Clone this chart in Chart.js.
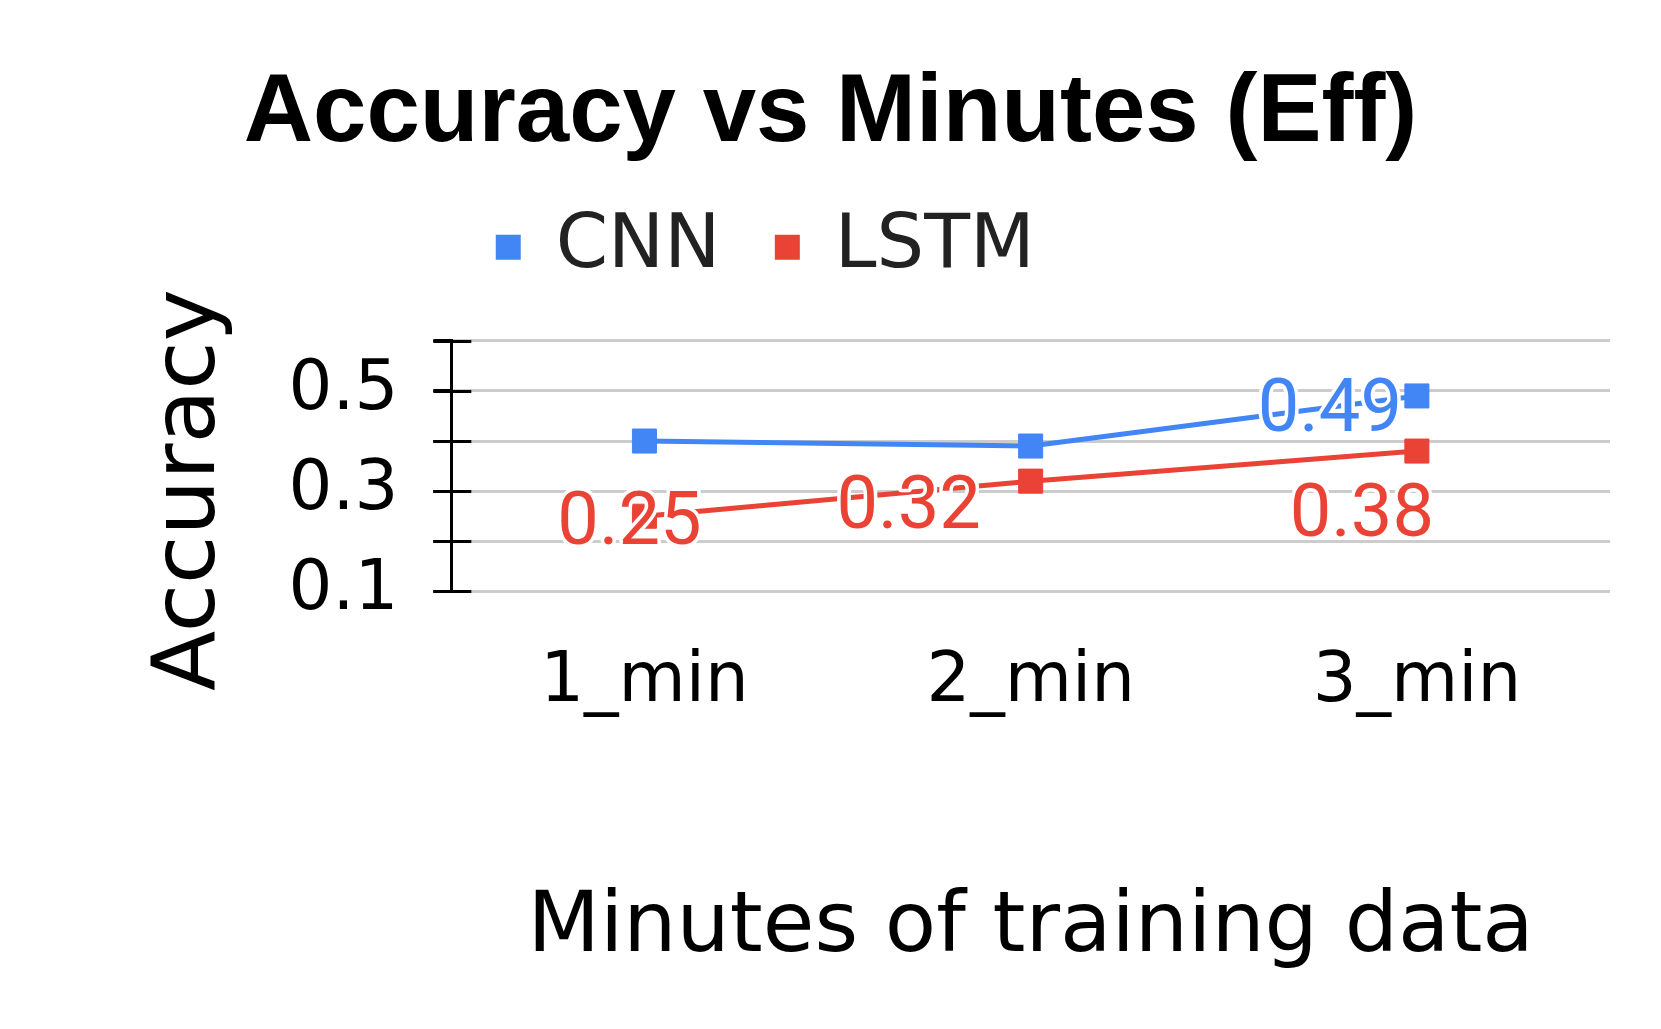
<!DOCTYPE html>
<html>
<head>
<meta charset="utf-8">
<script src="https://cdn.jsdelivr.net/npm/chart.js@4.4.1/dist/chart.umd.min.js"></script>
<style>
  html, body { margin: 0; padding: 0; background: #fff; }
</style>
</head>
<body>
<canvas id="accChart" width="1661" height="1029"></canvas>
<script>
// data
const categories = ['1_min', '2_min', '3_min'];
const cnnValues = [0.40, 0.39, 0.49];
const lstmValues = [0.25, 0.32, 0.38];
const yTickLabels = [0.1, 0.3, 0.5];
// which points carry a value label
const cnnShowLabel = [false, false, true];
const lstmShowLabel = [true, true, true];

// label placement relative to its point (px)
const labelOffsets = [
  [null, null, [-87, 17]],
  [[-15, 9], [-122, 28], [-55, 66]]
];

const LEGEND_GAP = 46;
const LEGEND_SHIFT = -64;
const Y_TITLE_PAD = 87;
const Y_TITLE_SIZE = 88;
const Y_TITLE_DROP = 24;

Chart.defaults.font.family = "'DejaVu Sans', sans-serif";
Chart.defaults.color = '#000';

// black tick marks that cross the y axis line
const crossTicks = {
  id: 'crossTicks',
  beforeDatasetsDraw(chart) {
    const { ctx, chartArea, scales } = chart;
    const y = scales.y;
    ctx.save();
    ctx.strokeStyle = '#000';
    ctx.lineWidth = 3;
    y.ticks.forEach(t => {
      const py = Math.round(y.getPixelForValue(t.value)) + 0.5;
      ctx.beginPath();
      ctx.moveTo(chartArea.left - 18, py);
      ctx.lineTo(chartArea.left + 20, py);
      ctx.stroke();
    });
    ctx.restore();
  }
};

// value labels with white halo
const valueLabels = {
  id: 'valueLabels',
  afterDatasetsDraw(chart) {
    const { ctx } = chart;
    const flags = [cnnShowLabel, lstmShowLabel];
    ctx.save();
    ctx.font = '74px Roboto';
    ctx.textAlign = 'center';
    ctx.textBaseline = 'middle';
    ctx.lineJoin = 'round';
    chart.data.datasets.forEach((ds, di) => {
      const meta = chart.getDatasetMeta(di);
      meta.data.forEach((pt, i) => {
        if (!flags[di][i]) return;
        const off = labelOffsets[di][i] || [0, 0];
        const text = ds.data[i].toFixed(2);
        const x = pt.x + off[0];
        const y = pt.y + off[1];
        ctx.strokeStyle = '#fff';
        ctx.lineWidth = 7;
        ctx.strokeText(text, x, y);
        ctx.fillStyle = ds.borderColor;
        ctx.fillText(text, x, y);
      });
    });
    ctx.restore();
  }
};

// y axis title, sitting a little below the plot's middle
const yTitle = {
  id: 'yTitle',
  afterDraw(chart) {
    const { ctx, chartArea, scales } = chart;
    const x = scales.y.left + Y_TITLE_PAD + Y_TITLE_SIZE * 1.2 / 2;
    const y = (chartArea.top + chartArea.bottom) / 2 + Y_TITLE_DROP;
    ctx.save();
    ctx.translate(x, y);
    ctx.rotate(-Math.PI / 2);
    ctx.font = Y_TITLE_SIZE + "px 'DejaVu Sans'";
    ctx.fillStyle = '#000';
    ctx.textAlign = 'center';
    ctx.textBaseline = 'middle';
    ctx.fillText('Accuracy', 0, 0);
    ctx.restore();
  }
};

// legend spacing / placement tweaks
const legendTweak = {
  id: 'legendTweak',
  beforeLayout(chart) {
    const lg = chart.legend;
    if (lg && !lg._tweaked) {
      const fit = lg.fit;
      lg.fit = function () {
        fit.call(this);
        this.height += LEGEND_GAP;
      };
      lg._tweaked = true;
    }
  },
  afterLayout(chart) {
    const lg = chart.legend;
    if (lg) {
      lg.left += LEGEND_SHIFT;
      lg.right += LEGEND_SHIFT;
    }
  }
};

new Chart(document.getElementById('accChart'), {
  type: 'line',
  data: {
    labels: categories,
    datasets: [
      {
        label: 'CNN',
        data: cnnValues,
        borderColor: '#4285F4',
        backgroundColor: '#4285F4',
        borderWidth: 5,
        pointStyle: 'rect',
        pointRadius: 17,
        pointBorderWidth: 1,
        pointBackgroundColor: '#4285F4',
        pointBorderColor: '#4285F4'
      },
      {
        label: 'LSTM',
        data: lstmValues,
        borderColor: '#EA4335',
        backgroundColor: '#EA4335',
        borderWidth: 5,
        pointStyle: 'rect',
        pointRadius: 17,
        pointBorderWidth: 1,
        pointBackgroundColor: '#EA4335',
        pointBorderColor: '#EA4335'
      }
    ]
  },
  options: {
    responsive: false,
    animation: false,
    devicePixelRatio: 1,
    layout: { padding: { left: 51, right: 51, top: 0, bottom: 0 } },
    plugins: {
      title: {
        display: true,
        text: 'Accuracy vs Minutes (Eff)',
        color: '#000',
        font: { family: "'Liberation Sans', Arial, sans-serif", size: 96, weight: 'bold', lineHeight: 0.8 },
        padding: { top: 76, bottom: 0 }
      },
      legend: {
        display: true,
        position: 'top',
        labels: {
          color: '#222',
          font: { size: 75 },
          boxWidth: 20,
          boxHeight: 20,
          padding: 57
        }
      },
      tooltip: { enabled: false }
    },
    scales: {
      x: {
        offset: true,
        grid: { display: false },
        border: { display: false },
        ticks: { font: { size: 69 }, color: '#000', padding: 42, maxRotation: 0 },
        title: {
          display: true,
          text: 'Minutes of training data',
          color: '#000',
          font: { size: 84 },
          padding: { top: 113, bottom: 49 }
        }
      },
      y: {
        min: 0.1,
        max: 0.6,
        grid: { color: '#cccccc', lineWidth: 3, tickLength: 18, tickColor: '#000', tickWidth: 3 },
        border: { display: true, color: '#000', width: 3 },
        ticks: {
          stepSize: 0.1,
          autoSkip: false,
          font: { size: 69 },
          color: '#000',
          padding: 35,
          callback: v => yTickLabels.some(t => Math.abs(t - v) < 1e-6) ? String(Math.round(v * 10) / 10) : ''
        },
        title: {
          display: true,
          text: 'Accuracy',
          color: 'rgba(0,0,0,0)',
          font: { size: Y_TITLE_SIZE },
          padding: { top: Y_TITLE_PAD, bottom: 10 }
        }
      }
    }
  },
  plugins: [crossTicks, valueLabels, yTitle, legendTweak]
});
</script>
</body>
</html>
